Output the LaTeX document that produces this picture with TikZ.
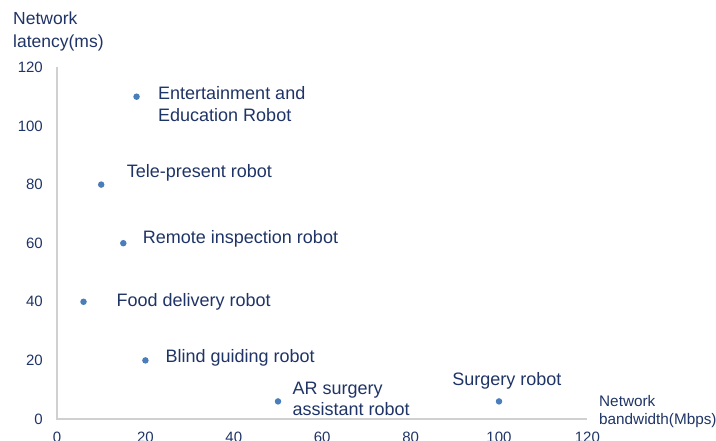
\documentclass[tikz,border=0pt]{standalone}
\usepackage{fontspec}
\setmainfont{Liberation Sans}
\usepackage{tikz}
\usetikzlibrary{positioning}

\definecolor{txtnavy}{HTML}{1F3466}
\definecolor{dotblue}{HTML}{4A7EBB}
\definecolor{axisgray}{HTML}{D0D0D0}

\begin{document}
\begin{tikzpicture}[x=1pt,y=1pt]
			\tikzstyle{robot} = [circle, fill=dotblue, inner sep=0pt, minimum size=6.5pt]
			\tikzstyle{rlabel} = [inner sep=0pt, anchor=west, align=left, text=txtnavy, font=\fontsize{18}{22}\selectfont]
			\tikzstyle{tick} = [inner sep=0pt, text=txtnavy, font=\fontsize{15}{18}\selectfont]
			\useasboundingbox (0,0) rectangle (716,441);
			\begin{scope}[shift={(57,22)}, x=4.42pt, y=2.93pt]
				% axes
				\coordinate (o) at (0,0);
				\coordinate (xend) at (120,0);
				\coordinate (yend) at (0,120);
				\draw[axisgray, line width=1.4pt] (yend) -- (o) -- (xend);
				\foreach \v in {0,20,...,120}{
					\node[tick, anchor=east] (yt\v) at ([xshift=-14pt]0,\v) {\v};
					\node[tick] (xt\v) at ([yshift=-18pt]\v,0) {\v};
				}
				% robots
				\node[robot] (ent) at (18,110) {};
				\node[robot] (tel) at (10,80) {};
				\node[robot] (rem) at (15,60) {};
				\node[robot] (foo) at (6,40) {};
				\node[robot] (bli) at (20,20) {};
				\node[robot] (ars) at (50,6) {};
				\node[robot] (sur) at (100,6) {};
				\node[rlabel, right=18pt of ent, yshift=-7pt] (entl) {Entertainment and\\Education Robot};
				\node[rlabel, right=22pt of tel, yshift=11.5pt] (tell) {Tele-present robot};
				\node[rlabel, right=16pt of rem, yshift=4pt] (reml) {Remote inspection robot};
				\node[rlabel, right=29.5pt of foo] (fool) {Food delivery robot};
				\node[rlabel, right=16.5pt of bli, yshift=3pt] (blil) {Blind guiding robot};
				\node[rlabel, right=11pt of ars, yshift=3pt, font=\fontsize{18}{21}\selectfont] (arsl) {AR surgery\\assistant robot};
				\node[rlabel, anchor=center] (surl) at ([xshift=8pt, yshift=21pt]sur) {Surgery robot};
			\end{scope}
			% axis titles
			\node[rlabel, font=\fontsize{17.5}{23}\selectfont] (ylab) at (13,409.5) {Network\\latency(ms)};
			\node[rlabel, font=\fontsize{15.3}{18}\selectfont] (xlab) at (599,29) {Network\\bandwidth(Mbps)};
\end{tikzpicture}
\end{document}
